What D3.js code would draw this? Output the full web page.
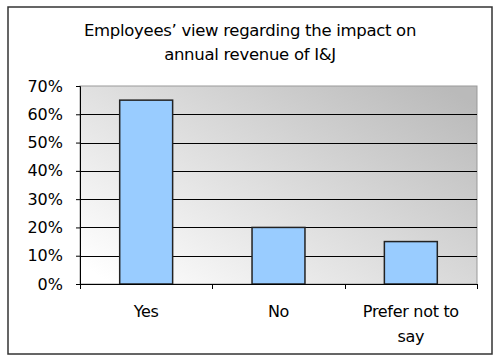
<!DOCTYPE html>
<html><head><meta charset="utf-8">
<script src="https://cdn.jsdelivr.net/npm/d3@7"></script>
<style>body{margin:0;background:#fff}text{font-family:"DejaVu Sans",sans-serif;fill:#000}</style>
</head><body>
<svg id="c" width="500" height="361"></svg>
<script>
const categories = [["Yes"], ["No"], ["Prefer not to", "say"]];
const values = [0.65, 0.20, 0.15];
const yTicks = [0, 0.1, 0.2, 0.3, 0.4, 0.5, 0.6, 0.7];
const titleLines = ["Employees’ view regarding the impact on", "annual revenue of I&J"];

const svg = d3.select("#c");
const m = {left: 80, right: 477, top: 86, bottom: 284};

const defs = svg.append("defs");
const g = defs.append("linearGradient").attr("id","bg")
  .attr("x1","0").attr("y1","0.9").attr("x2","1").attr("y2","0.1");
g.append("stop").attr("offset","0").attr("stop-color","#ffffff");
g.append("stop").attr("offset","1").attr("stop-color","#bababa");

// outer border
svg.append("rect").attr("x",8).attr("y",7).attr("width",484).attr("height",347)
  .attr("fill","#fff").attr("stroke","#333").attr("stroke-width",1.5);

// title
svg.append("g").selectAll("text").data(titleLines).join("text")
  .attr("x",250).attr("y",(d,i)=>36+i*24).attr("text-anchor","middle")
  .attr("font-size",16.5).attr("letter-spacing",-0.3).text(d=>d);

const x = d3.scaleBand().domain(d3.range(values.length)).range([m.left,m.right]).paddingInner(0.6).paddingOuter(0.3);
const y = d3.scaleLinear().domain([0,0.7]).range([m.bottom,m.top]);

svg.append("rect").attr("x",m.left).attr("y",m.top).attr("width",m.right-m.left).attr("height",m.bottom-m.top)
  .attr("fill","url(#bg)").attr("stroke","#999").attr("stroke-width",1);

// gridlines
svg.append("g").selectAll("line").data(yTicks.filter(t=>t>0 && t<0.7)).join("line")
  .attr("x1",m.left).attr("x2",m.right).attr("y1",d=>Math.round(y(d))+0.5).attr("y2",d=>Math.round(y(d))+0.5)
  .attr("stroke","#000").attr("stroke-width",1);

// y axis
const ya = svg.append("g").attr("transform",`translate(${m.left},0)`)
  .call(d3.axisLeft(y).tickValues(yTicks).tickFormat(d3.format(".0%")).tickSize(4).tickPadding(13));
ya.select(".domain").attr("stroke","#000");
ya.selectAll("text").attr("font-size",16).attr("font-family","DejaVu Sans").attr("fill","#000");

// bars
svg.append("g").selectAll("rect").data(values).join("rect")
  .attr("x",(d,i)=>x(i)).attr("width",x.bandwidth())
  .attr("y",d=>y(d)).attr("height",d=>y(0)-y(d))
  .attr("fill","#99ccff").attr("stroke","#222").attr("stroke-width",1.5);

// x axis
const step = (m.right-m.left)/values.length;
svg.append("line").attr("x1",m.left).attr("x2",m.right).attr("y1",m.bottom+0.5).attr("y2",m.bottom+0.5).attr("stroke","#000");
svg.append("g").selectAll("line").data(d3.range(values.length+1)).join("line")
  .attr("x1",i=>Math.round(m.left+i*step)+0.5).attr("x2",i=>Math.round(m.left+i*step)+0.5)
  .attr("y1",m.bottom).attr("y2",m.bottom+5).attr("stroke","#000");

const xl = svg.append("g").selectAll("text").data(categories).join("text")
  .attr("text-anchor","middle").attr("font-size",16).attr("letter-spacing",-0.3)
  .attr("transform",(d,i)=>`translate(${x(i)+x.bandwidth()/2},317)`);
xl.selectAll("tspan").data(d=>d).join("tspan").attr("x",0).attr("dy",(d,i)=>i?25:0).text(d=>d);
</script>
</body></html>
